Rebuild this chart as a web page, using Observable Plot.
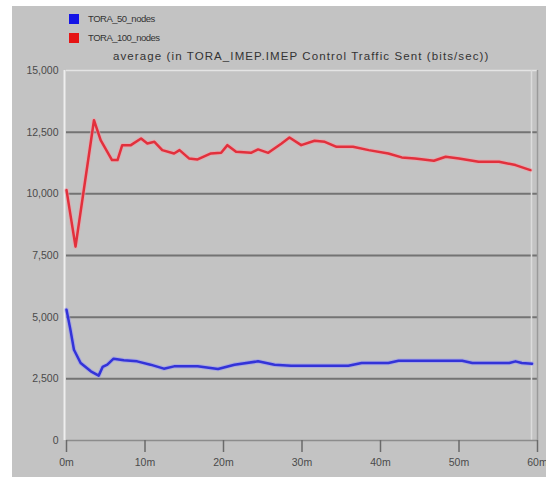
<!DOCTYPE html>
<html>
<head>
<meta charset="utf-8">
<script src="https://cdn.jsdelivr.net/npm/d3@7"></script>
<script src="https://cdn.jsdelivr.net/npm/@observablehq/plot@0.6"></script>
<style>
  html, body { margin: 0; padding: 0; background: #ffffff; }
  #page { position: relative; width: 546px; height: 477px; background: #ffffff; overflow: hidden; }
  #chart { position: absolute; left: 12px; top: 6px; }
  .lg { position: absolute; font-family: "Liberation Sans", Arial, sans-serif; color: #333333; white-space: nowrap; }
  .sw { position: absolute; width: 10px; height: 10px; }
</style>
</head>
<body>
<div id="page">
  <div id="chart"></div>
  <div class="sw" style="left:69px;top:14px;background:#1414e6"></div>
  <div class="lg" id="l1" style="left:88px;top:13px;font-size:9.5px;letter-spacing:-0.5px">TORA_50_nodes</div>
  <div class="sw" style="left:69px;top:33px;background:#e61414"></div>
  <div class="lg" id="l2" style="left:88px;top:32px;font-size:9.5px;letter-spacing:-0.5px">TORA_100_nodes</div>
  <div class="lg" id="ttl" style="left:113px;top:50px;font-size:11.5px;letter-spacing:1.1px">average (in TORA_IMEP.IMEP Control Traffic Sent (bits/sec))</div>
</div>
<script>
// ---- data (minutes, bits/sec) ----
const seriesNames = ["TORA_50_nodes", "TORA_100_nodes"];

const redT = [0, 1.15, 3.5, 4.35, 5.8, 6.5, 7.1, 8.2, 9.5, 10.3, 11.2, 12.2, 13.7, 14.4, 15.6, 16.7, 18.4, 19.7, 20.5, 21.6, 23.5, 24.4, 25.7, 27.4, 28.4, 29.9, 31.6, 32.9, 34.4, 36.5, 38.5, 41, 42.7, 44.4, 46.8, 48.3, 50, 52.5, 55.1, 57.2, 59.1];
const redV = [10150, 7860, 12985, 12176, 11367, 11367, 11974, 11974, 12245, 12043, 12110, 11772, 11637, 11772, 11436, 11395, 11637, 11663, 11974, 11703, 11663, 11800, 11663, 12043, 12285, 11974, 12150, 12110, 11907, 11907, 11772, 11637, 11476, 11436, 11341, 11503, 11436, 11300, 11300, 11165, 10963];

const blueT = [0, 0.5, 0.95, 1.8, 3.1, 4.1, 4.6, 5.2, 6.0, 7.3, 9.0, 10.7, 12.4, 13.7, 16.7, 19.3, 21.4, 24.4, 26.5, 28.6, 35.9, 37.6, 41, 42.3, 50.4, 51.7, 56.4, 57.2, 58, 59.3];
const blueV = [5300, 4490, 3680, 3143, 2804, 2630, 2981, 3074, 3317, 3250, 3209, 3074, 2912, 3006, 3006, 2900, 3074, 3209, 3074, 3034, 3034, 3143, 3143, 3236, 3236, 3143, 3143, 3209, 3143, 3115];

const xTicks = [0, 10, 20, 30, 40, 50, 60];
const yTicks = [0, 2500, 5000, 7500, 10000, 12500, 15000];
const gridY = [2500, 5000, 7500, 10000, 12500];
const xDomain = [0, 60];
const yDomain = [0, 15000];

const red = redT.map((t, i) => ({t, v: redV[i]}));
const blue = blueT.map((t, i) => ({t, v: blueV[i]}));

const chart = Plot.plot({
  width: 534,
  height: 471,
  marginLeft: 54,
  marginRight: 9,
  marginTop: 64,
  marginBottom: 37,
  style: {background: "#c3c3c3", fontFamily: "'Liberation Sans', Arial, sans-serif", fontSize: "10.5px", color: "#454545"},
  x: {domain: xDomain, ticks: xTicks, label: null},
  y: {domain: yDomain, ticks: yTicks, label: null},
  marks: [
    Plot.ruleY(gridY, {stroke: "#737373", strokeWidth: 2}),
    Plot.ruleY([yDomain[1]], {stroke: "#e4e4e4", strokeWidth: 1.5}),
    Plot.ruleX([xDomain[0]], {stroke: "#eeeeee", strokeWidth: 2, dx: -2}),
    Plot.ruleX([xDomain[1]], {stroke: "#dcdcdc", strokeWidth: 1.5, dx: -6}),
    Plot.ruleX([xDomain[1]], {stroke: "#9a9a9a", strokeWidth: 1.5}),
    Plot.ruleY([yDomain[0]], {stroke: "#8c8c8c", strokeWidth: 1.5}),
    Plot.line(blue, {x: "t", y: "v", stroke: "#9a9af0", strokeWidth: 4.5, strokeOpacity: 0.6}),
    Plot.line(blue, {x: "t", y: "v", stroke: "#3333d8", strokeWidth: 2.5}),
    Plot.line(red, {x: "t", y: "v", stroke: "#f0a0a8", strokeWidth: 4.5, strokeOpacity: 0.6}),
    Plot.line(red, {x: "t", y: "v", stroke: "#e2303c", strokeWidth: 2.5}),
    Plot.axisY(yTicks, {tickSize: 0, tickPadding: 8, tickFormat: d3.format(","), fill: "#4a4a4a", label: null}),
    Plot.axisX(xTicks, {tickSize: 12, tickPadding: 6, tickFormat: d => d + "m", stroke: "#6a6a6a", strokeWidth: 1.5, fill: "#4a4a4a", label: null})
  ]
});
document.getElementById("chart").appendChild(chart);
</script>
</body>
</html>
